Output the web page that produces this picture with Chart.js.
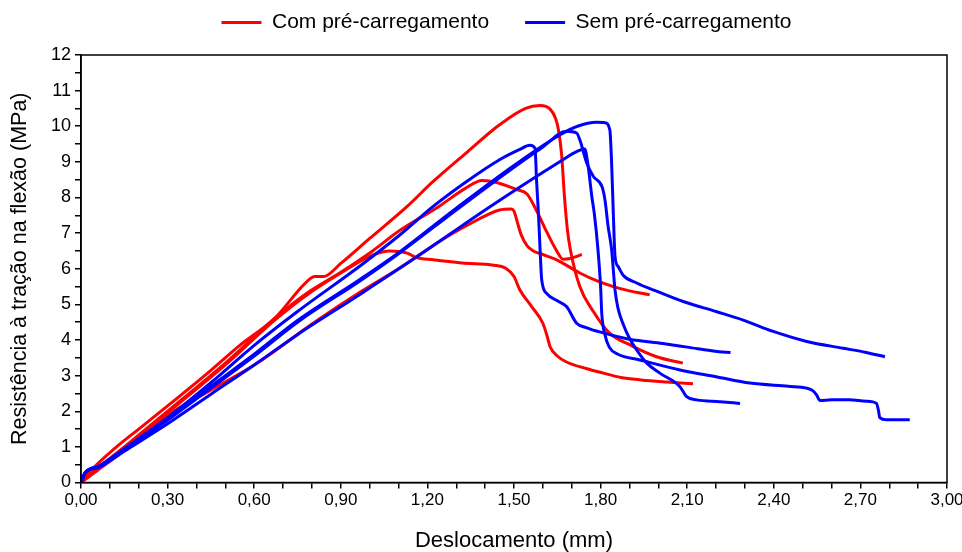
<!DOCTYPE html>
<html>
<head>
<meta charset="utf-8">
<script src="https://cdn.jsdelivr.net/npm/chart.js@4/dist/chart.umd.min.js"></script>
<style>
  html, body { margin: 0; padding: 0; background: #fff; }
  #wrap { width: 962px; height: 552px; }
</style>
</head>
<body>
<div id="wrap"><canvas id="grafico" width="962" height="552"></canvas></div>
<script>
/* ───────── Dados ───────── */
// Com pré-carregamento (vermelho)
const com1X = [0, 0.03, 0.12, 0.2, 0.3, 0.45, 0.55, 0.67, 0.78, 0.81, 0.84, 0.9, 1.0, 1.13, 1.22, 1.34, 1.45, 1.54, 1.59, 1.625, 1.645, 1.655, 1.665, 1.675, 1.685, 1.695, 1.728, 1.775, 1.83, 1.91, 1.994, 2.085];
const com1Y = [0, 0.3, 0.98, 1.5, 2.15, 3.15, 3.85, 4.6, 5.62, 5.78, 5.78, 6.15, 6.85, 7.75, 8.45, 9.29, 10.04, 10.5, 10.58, 10.48, 10.2, 9.85, 9.2, 8.0, 7.1, 6.55, 5.5, 4.8, 4.2, 3.83, 3.53, 3.35];

const com2X = [0, 0.05, 0.15, 0.3, 0.5, 0.67, 0.78, 0.9, 1.01, 1.1, 1.24, 1.33, 1.39, 1.44, 1.51, 1.545, 1.58, 1.613, 1.648, 1.67, 1.69, 1.735];
const com2Y = [0, 0.35, 1.0, 2.0, 3.35, 4.6, 5.3, 5.9, 6.5, 7.05, 7.75, 8.25, 8.48, 8.42, 8.22, 8.1, 7.6, 7.04, 6.5, 6.27, 6.28, 6.4];

const com3X = [0, 0.1, 0.31, 0.45, 0.61, 0.8, 0.97, 1.1, 1.24, 1.34, 1.45, 1.49, 1.5, 1.51, 1.525, 1.545, 1.567, 1.6, 1.648, 1.728, 1.79, 1.844, 1.9, 1.97];
const com3Y = [0, 0.62, 1.94, 2.6, 3.35, 4.45, 5.36, 6.0, 6.76, 7.23, 7.65, 7.68, 7.62, 7.35, 6.95, 6.65, 6.5, 6.4, 6.25, 5.88, 5.65, 5.5, 5.38, 5.27];

const com4X = [0, 0.05, 0.15, 0.3, 0.5, 0.67, 0.78, 0.9, 1.01, 1.07, 1.13, 1.16, 1.22, 1.32, 1.43, 1.47, 1.5, 1.52, 1.56, 1.6, 1.615, 1.625, 1.65, 1.68, 1.75, 1.81, 1.87, 1.94, 2.03, 2.12];
const com4Y = [0, 0.3, 0.9, 1.95, 3.3, 4.55, 5.25, 5.88, 6.38, 6.5, 6.44, 6.32, 6.25, 6.16, 6.1, 6.02, 5.78, 5.41, 4.95, 4.47, 4.1, 3.81, 3.55, 3.39, 3.2, 3.07, 2.95, 2.88, 2.82, 2.77];

// Sem pré-carregamento (azul)
const sem1X = [0, 0.015, 0.06, 0.15, 0.3, 0.45, 0.6, 0.75, 0.97, 1.105, 1.3, 1.5, 1.66, 1.72, 1.786, 1.815, 1.832, 1.838, 1.844, 1.85, 1.861, 1.878, 1.925, 2.0, 2.086, 2.2, 2.294, 2.398, 2.514, 2.64, 2.72, 2.785];
const sem1Y = [0, 0.28, 0.45, 0.92, 1.78, 2.7, 3.6, 4.55, 5.72, 6.48, 7.7, 8.9, 9.76, 10.0, 10.11, 10.1, 9.9, 9.0, 7.57, 6.35, 6.06, 5.82, 5.6, 5.35, 5.08, 4.8, 4.56, 4.24, 3.96, 3.77, 3.65, 3.53];

const sem2X = [0, 0.015, 0.06, 0.15, 0.3, 0.45, 0.6, 0.75, 0.97, 1.105, 1.3, 1.5, 1.6, 1.682, 1.717, 1.728, 1.752, 1.775, 1.805, 1.815, 1.826, 1.838, 1.85, 1.86, 1.878, 1.9, 1.925, 1.96, 2.005, 2.075, 2.098, 2.133, 2.213, 2.283];
const sem2Y = [0, 0.28, 0.45, 0.9, 1.75, 2.65, 3.55, 4.5, 5.68, 6.45, 7.65, 8.85, 9.42, 9.86, 9.81, 9.62, 8.97, 8.59, 8.3, 7.94, 7.19, 6.55, 5.4, 4.9, 4.45, 4.05, 3.72, 3.35, 3.07, 2.69, 2.41, 2.32, 2.27, 2.22];

const sem3X = [0, 0.015, 0.06, 0.15, 0.3, 0.45, 0.6, 0.75, 0.97, 1.1, 1.22, 1.336, 1.45, 1.52, 1.555, 1.573, 1.578, 1.585, 1.59, 1.596, 1.613, 1.65, 1.682, 1.717, 1.75, 1.8, 1.9, 2.015, 2.1, 2.21, 2.25];
const sem3Y = [0, 0.28, 0.45, 0.95, 1.82, 2.8, 3.85, 4.8, 6.1, 6.92, 7.75, 8.45, 9.06, 9.35, 9.47, 9.38, 8.5, 7.5, 6.6, 5.69, 5.31, 5.1, 4.94, 4.47, 4.35, 4.22, 4.02, 3.9, 3.8, 3.67, 3.65];

const sem4X = [0, 0.015, 0.06, 0.15, 0.3, 0.45, 0.6, 0.75, 0.97, 1.174, 1.4, 1.66, 1.72, 1.745, 1.757, 1.77, 1.778, 1.79, 1.8, 1.804, 1.815, 1.83, 1.86, 1.936, 2.075, 2.2, 2.317, 2.45, 2.514, 2.535, 2.548, 2.56, 2.6, 2.66, 2.72, 2.756, 2.763, 2.767, 2.79, 2.871];
const sem4Y = [0, 0.28, 0.42, 0.88, 1.65, 2.48, 3.3, 4.15, 5.3, 6.39, 7.65, 9.01, 9.3, 9.36, 8.87, 8.0, 7.56, 6.62, 5.5, 4.75, 4.15, 3.8, 3.6, 3.44, 3.16, 2.97, 2.79, 2.7, 2.65, 2.58, 2.46, 2.3, 2.32, 2.32, 2.28, 2.22, 2.0, 1.82, 1.76, 1.76];

const rotuloCom = 'Com pré-carregamento';
const rotuloSem = 'Sem pré-carregamento';
const tituloX = 'Deslocamento (mm)';
const tituloY = 'Resistência à tração na flexão (MPa)';

/* ───────── Util ───────── */
const pontos = (xs, ys) => xs.map((x, i) => ({ x, y: ys[i] }));
const virgula = (v, d) => v.toFixed(d).replace('.', ',');

const serie = (label, xs, ys, cor, ordem) => ({
  label,
  data: pontos(xs, ys),
  borderColor: cor,
  backgroundColor: cor,
  borderWidth: 3,
  pointRadius: 0,
  fill: false,
  cubicInterpolationMode: 'monotone',
  order: ordem
});

const VERMELHO = '#ff0000';
const AZUL = '#0000ff';
const FONTE = "'Liberation Sans', Arial, sans-serif";

/* ───────── Moldura + ajuste da legenda ───────── */
const moldura = {
  id: 'moldura',
  beforeInit(chart) {
    const lg = chart.legend;
    if (lg) {
      const fitOrig = lg.fit;
      lg.fit = function () { fitOrig.call(this); this.height = 79; };
    }
  },
  afterLayout(chart) {
    // legenda levemente deslocada para a direita, como no original
    if (chart.legend) { chart.legend.left += 30; chart.legend.right += 30; }
  },
  afterDraw(chart) {
    const { ctx, chartArea: a } = chart;
    ctx.save();
    ctx.strokeStyle = '#000';
    ctx.lineWidth = 1.5;
    ctx.strokeRect(a.left, a.top, a.right - a.left, a.bottom - a.top);
    ctx.restore();
  }
};

const ctx = document.getElementById('grafico').getContext('2d');
new Chart(ctx, {
  type: 'line',
  data: {
    datasets: [
      serie(rotuloCom, com1X, com1Y, VERMELHO, 1),
      serie(rotuloCom, com2X, com2Y, VERMELHO, 1),
      serie(rotuloCom, com3X, com3Y, VERMELHO, 1),
      serie(rotuloCom, com4X, com4Y, VERMELHO, 1),
      serie(rotuloSem, sem1X, sem1Y, AZUL, 0),
      serie(rotuloSem, sem2X, sem2Y, AZUL, 0),
      serie(rotuloSem, sem3X, sem3Y, AZUL, 0),
      serie(rotuloSem, sem4X, sem4Y, AZUL, 0)
    ]
  },
  options: {
    responsive: false,
    animation: false,
    layout: { padding: { left: 6, right: 15, top: -24, bottom: 0 } },
    plugins: {
      tooltip: { enabled: false },
      legend: {
        position: 'top',
        labels: {
          usePointStyle: true,
          pointStyle: 'line',
          pointStyleWidth: 40,
          boxHeight: 21,
          padding: 36,
          color: '#000',
          font: { family: FONTE, size: 21 },
          filter: item => item.datasetIndex === 0 || item.datasetIndex === 4,
          sort: (a, b) => a.datasetIndex - b.datasetIndex
        }
      }
    },
    scales: {
      x: {
        type: 'linear',
        min: 0,
        max: 3,
        afterFit: s => { s.height = 552 - 482.5; s.paddingLeft = 0; s.paddingRight = 0; },
        border: { display: true, color: '#000', width: 1.5 },
        grid: { display: true, drawOnChartArea: false, drawTicks: true, tickLength: 6, color: '#000', lineWidth: 1.5 },
        ticks: {
          stepSize: 0.1,
          autoSkip: false,
          maxRotation: 0,
          padding: 2,
          color: '#000',
          font: { family: FONTE, size: 17 },
          callback: v => (Math.round(v * 10) % 3 === 0 ? virgula(v, 2) : '')
        },
        title: { display: true, text: tituloX, color: '#000', font: { family: FONTE, size: 22, lineHeight: 1 }, padding: { top: 4, bottom: 0 } }
      },
      y: {
        type: 'linear',
        min: 0,
        max: 12,
        afterFit: s => { s.width = 81 - 6; s.paddingTop = 0; s.paddingBottom = 0; },
        border: { display: true, color: '#000', width: 1.5 },
        grid: { display: true, drawOnChartArea: false, drawTicks: true, tickLength: 6, color: '#000', lineWidth: 1.5 },
        ticks: {
          stepSize: 0.5,
          autoSkip: false,
          padding: 4,
          color: '#000',
          font: { family: FONTE, size: 18 },
          callback: v => (Number.isInteger(v) ? String(v) : '')
        },
        title: { display: true, text: tituloY, color: '#000', font: { family: FONTE, size: 21.5, lineHeight: 1 }, padding: { top: 3, bottom: 6 } }
      }
    }
  },
  plugins: [moldura]
});
</script>
</body>
</html>
